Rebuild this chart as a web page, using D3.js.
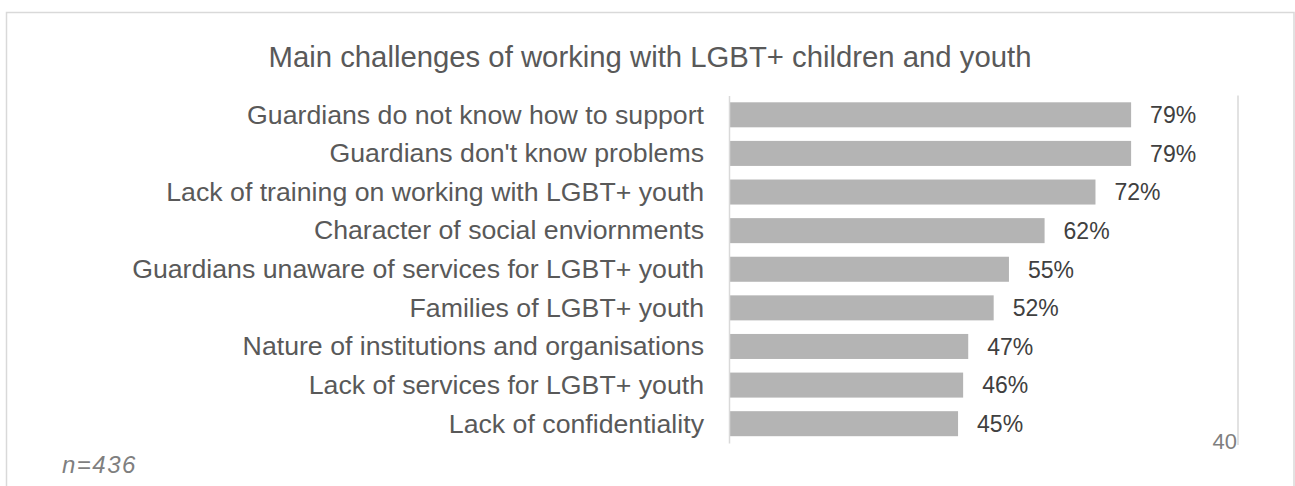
<!DOCTYPE html>
<html>
<head>
<meta charset="utf-8">
<script src="https://cdn.jsdelivr.net/npm/d3@7"></script>
<style>
  html, body { margin: 0; padding: 0; background: #ffffff; }
  svg { display: block; font-family: "Liberation Sans", Arial, sans-serif; }
</style>
</head>
<body>
<svg id="chart" width="1295" height="486"></svg>
<script>
// Survey answers, share of respondents (%)
const categories = [
  "Guardians do not know how to support",
  "Guardians don't know problems",
  "Lack of training on working with LGBT+ youth",
  "Character of social enviornments",
  "Guardians unaware of services for LGBT+ youth",
  "Families of LGBT+ youth",
  "Nature of institutions and organisations",
  "Lack of services for LGBT+ youth",
  "Lack of confidentiality"
];
const values = [79, 79, 72, 62, 55, 52, 47, 46, 45];
const xDomain = [0, 100];
const titleText = "Main challenges of working with LGBT+ children and youth";
const noteText = "n=436";
const pageNumber = "40";

const data = categories.map((c, i) => ({ category: c, value: values[i] }));

const svg = d3.select("#chart");
const W = 1295, H = 486;

svg.append("rect").attr("width", W).attr("height", H).attr("fill", "#ffffff");

// outer frame
svg.append("rect")
  .attr("x", 6.5).attr("y", 12.5)
  .attr("width", 1287.5).attr("height", 520)
  .attr("fill", "none")
  .attr("stroke", "#d9d9d9")
  .attr("stroke-width", 1.5);

const x = d3.scaleLinear().domain(xDomain).range([729, 1238]);
const y = d3.scaleBand().domain(categories).range([95.5, 443])
  .paddingInner(0.352).paddingOuter(0.176);

// right border gridline at the maximum of the value axis
svg.append("line")
  .attr("x1", x(xDomain[1])).attr("x2", x(xDomain[1]))
  .attr("y1", 95.5).attr("y2", 445)
  .attr("stroke", "#d9d9d9").attr("stroke-width", 1.5);

// title
svg.append("text")
  .attr("x", 650).attr("y", 67)
  .attr("text-anchor", "middle")
  .attr("font-size", 29.3)
  .attr("fill", "#595959")
  .text(titleText);

// bars
svg.append("g").selectAll("rect")
  .data(data)
  .join("rect")
  .attr("x", x(0))
  .attr("y", d => y(d.category))
  .attr("width", d => x(d.value) - x(0))
  .attr("height", y.bandwidth())
  .attr("fill", "#b4b4b4");

// category axis
const yAxis = svg.append("g")
  .attr("transform", `translate(${x(0)},0)`)
  .call(d3.axisLeft(y).tickSize(0).tickPadding(25));
yAxis.select(".domain").attr("stroke", "#d9d9d9").attr("stroke-width", 1.5);
yAxis.selectAll("text")
  .attr("font-family", "'Liberation Sans', Arial, sans-serif")
  .attr("font-size", 26.7)
  .attr("fill", "#595959")
  .attr("dy", "0.33em");

// value labels
svg.append("g").selectAll("text")
  .data(data)
  .join("text")
  .attr("x", d => x(d.value) + 19)
  .attr("y", d => y(d.category) + y.bandwidth() / 2)
  .attr("dy", "0.36em")
  .attr("font-size", 23)
  .attr("fill", "#404040")
  .text(d => d.value + "%");

// sample size note
svg.append("text")
  .attr("x", 62).attr("y", 473)
  .attr("font-size", 24)
  .attr("font-style", "italic")
  .attr("letter-spacing", "1.5px")
  .attr("fill", "#7f7f7f")
  .text(noteText);

// page number
svg.append("text")
  .attr("x", 1237).attr("y", 449)
  .attr("text-anchor", "end")
  .attr("font-size", 22)
  .attr("fill", "#7f7f7f")
  .text(pageNumber);
</script>
</body>
</html>
